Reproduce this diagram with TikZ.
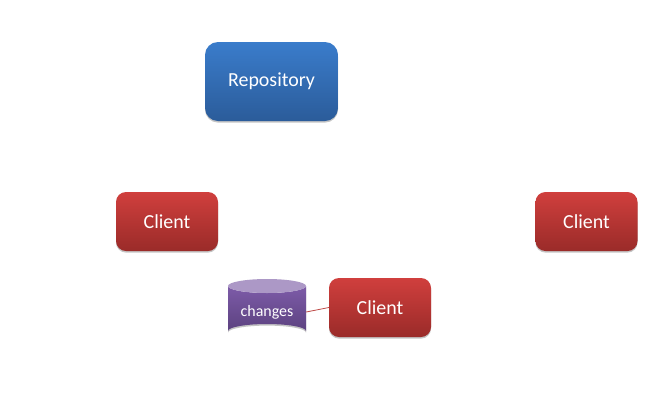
\documentclass[tikz,border=0pt]{standalone}
\usepackage{fontspec}
\setmainfont{Carlito}
\usetikzlibrary{shadows}
\definecolor{blueT}{HTML}{3A7CCB}
\definecolor{blueB}{HTML}{2B5C9A}
\definecolor{redT}{HTML}{D03F3D}
\definecolor{redB}{HTML}{9A2B29}
\definecolor{purT}{HTML}{7D5BA8}
\definecolor{purB}{HTML}{5C4280}
\definecolor{purTop}{HTML}{AC98C6}
\definecolor{linkred}{HTML}{BE4B48}
\tikzset{
  softshadow/.style={drop shadow={shadow xshift=0pt,shadow yshift=-1.6bp,opacity=.38,fill=black!60}},
  repobox/.style={rounded corners=13bp,minimum width=133bp,minimum height=79bp,inner sep=0pt,
    top color=blueT,bottom color=blueB,draw=none,text=white,font=\fontsize{20}{24}\selectfont,softshadow},
  clientbox/.style={rounded corners=10bp,minimum width=102bp,minimum height=59bp,inner sep=0pt,
    top color=redT,bottom color=redB,draw=none,text=white,font=\fontsize{20}{24}\selectfont,softshadow},
  drumlabel/.style={text=white,inner sep=0pt,minimum width=78bp,minimum height=58bp,font=\fontsize{16}{19}\selectfont},
  linkline/.style={draw=linkred,line width=.8bp}
}
\begin{document}
\begin{tikzpicture}[x=1bp,y=-1bp]
\useasboundingbox (0,0) rectangle (670,400);
\fill[white] (0,0) rectangle (670,400);
\node[repobox] (repo) at (271.5,81.5) {Repository};
\node[clientbox] (c1) at (167,221.5) {Client};
\node[clientbox] (c2) at (586.5,221.5) {Client};
\node[clientbox] (c3) at (380,307.5) {Client};
% drum
\path[top color=purT,bottom color=purB,softshadow]
  (228,286) -- (228,331) arc[x radius=39,y radius=7,start angle=180,end angle=360,y=1bp] -- (306,286)
  arc[x radius=39,y radius=7,start angle=0,end angle=180] -- cycle;
\fill[purTop] (267,286) ellipse[x radius=39,y radius=7];
\node[drumlabel,anchor=center] (changes) at (267,312) {changes};
\draw[linkline] (changes.east) -- (c3.west);
\end{tikzpicture}
\end{document}
